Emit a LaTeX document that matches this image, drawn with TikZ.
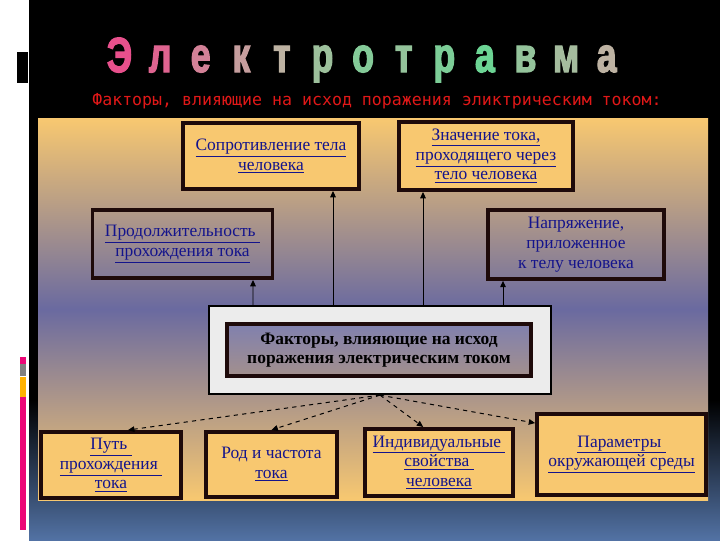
\documentclass[tikz,border=0pt]{standalone}
\usepackage{fontspec}
\setmainfont{Liberation Serif}
\newfontfamily\titlefont[FakeStretch=0.72,FakeBold=2.5]{Liberation Sans Bold}
\newfontfamily\subfont{DejaVu Sans Mono}
\usetikzlibrary{arrows.meta,calc}
\definecolor{gold}{HTML}{F8C870}
\definecolor{dusk}{HTML}{6A6AA0}
\definecolor{ink}{HTML}{14148C}
\definecolor{frame}{HTML}{1E0A0A}
\definecolor{navy}{HTML}{5272A4}
\definecolor{rose}{HTML}{E8508C}
\definecolor{mint}{HTML}{6CD494}
\definecolor{ash}{HTML}{BDB2A2}
\definecolor{scarlet}{HTML}{E01818}
\tikzset{block/.style={draw=frame,line width=2.8pt,fill=gold,align=center,inner sep=0pt,text=ink,font=\fontsize{12.4}{14}\selectfont},edge/.style={-{Triangle[length=4.5pt,width=4pt]},line width=0.7pt,draw=black}}
\newcommand{\lnk}[1]{\underline{#1}}

\begin{document}
\begin{tikzpicture}[x=0.025cm,y=-0.025cm]
\useasboundingbox (0,0) rectangle (720,540);
\fill[white] (0,0) rectangle (720,540);
\fill[black] (29,0) rectangle (720,540);
\shade[top color=black,bottom color=navy] (29,400) rectangle (720,540);
\fill[black] (17,52) rectangle (27.5,83);
\fill[magenta!80!red] (20,357) rectangle (26,364);\fill[gray] (20,364) rectangle (26,376);
\fill[orange!60!yellow] (20,377) rectangle (26,397);\fill[magenta!80!red] (20,397) rectangle (26,530);
\shade[top color=gold,bottom color=gold,middle color=dusk] (38,118) rectangle (708,500);
% title
\foreach \ch/\col [count=\i] in {Э/rose,л/rose!80!ash,е/rose!50!ash,к/ash!80!rose,т/ash,р/ash!60!mint,о/mint!70!ash,т/mint!50!ash,р/mint!80!ash,а/mint,в/mint!50!ash,м/ash!70!mint,а/ash}{
\node[anchor=base,text=\col,font=\titlefont\fontsize{35}{35}\selectfont] (t\i) at ({119.5+40.6*(\i-1)},72) {\ch};}
\node[font=\subfont\fontsize{11.8}{12}\selectfont,text=scarlet] (sub) at (377,101) {Факторы, влияющие на исход поражения эликтрическим током:};
% boxes
\node[block,minimum width=4.4cm,minimum height=1.65cm] (resist) at (271,156) {\lnk{Сопротивление тела}\\\lnk{человека}};
\node[block,minimum width=4.35cm,minimum height=1.7cm] (current) at (486,156) {\lnk{Значение тока,}\\\lnk{проходящего через}\\\lnk{тело человека}};
\node[block,fill=none,minimum width=4.5cm,minimum height=1.7cm] (duration) at (182.5,244) {\lnk{Продолжительность\ }\\\lnk{прохождения тока}};
\node[block,fill=none,minimum width=4.4cm,minimum height=1.72cm] (voltage) at (576,244.5) {Напряжение,\\приложенное\\к телу человека};
\node[draw=black,line width=1.6pt,fill=gray!15,minimum width=8.55cm,minimum height=2.2cm] (hubframe) at (380,350) {};
\node[block,top color=dusk!85!white,bottom color=dusk!60!gold,text=black,font=\bfseries\fontsize{12.4}{14}\selectfont,minimum width=7.6cm,minimum height=1.3cm] (hub) at (379,350) {Факторы, влияющие на исход\\поражения электрическим током};
\node[block,minimum width=3.5cm,minimum height=1.65cm] (path) at (111,465) {\lnk{Путь\ }\\\lnk{прохождения\ }\\\lnk{тока}};
\node[block,minimum width=3.28cm,minimum height=1.63cm] (freq) at (271.5,464.5) {Род и частота\\\lnk{тока}};
\node[block,minimum width=3.7cm,minimum height=1.68cm] (indiv) at (439,462.5) {\lnk{Индивидуальные\ }\\\lnk{свойства\ }\\\lnk{человека}};
\node[block,minimum width=4.22cm,minimum height=2.03cm] (env) at (621.5,454.5) {\lnk{Параметры\ }\\\lnk{окружающей среды}};
% arrows
\draw[edge]($(hubframe.north)+(-47,0)$)--($(resist.south)+(62,0)$);
\draw[edge]($(hubframe.north)+(43,0)$)--($(current.south)+(-63,0)$);
\draw[edge]($(hubframe.north)+(-127,0)$)--($(duration.south)+(70.5,0)$);
\draw[edge]($(hubframe.north)+(123,0)$)--($(voltage.south)+(-73,0)$);
\draw[edge,dashed](hubframe.south)--(path.64);\draw[edge,dashed](hubframe.south)--(freq.north);
\draw[edge,dashed](hubframe.south)--(indiv.114);\draw[edge,dashed](hubframe.south)--(env.160);
\end{tikzpicture}
\end{document}
